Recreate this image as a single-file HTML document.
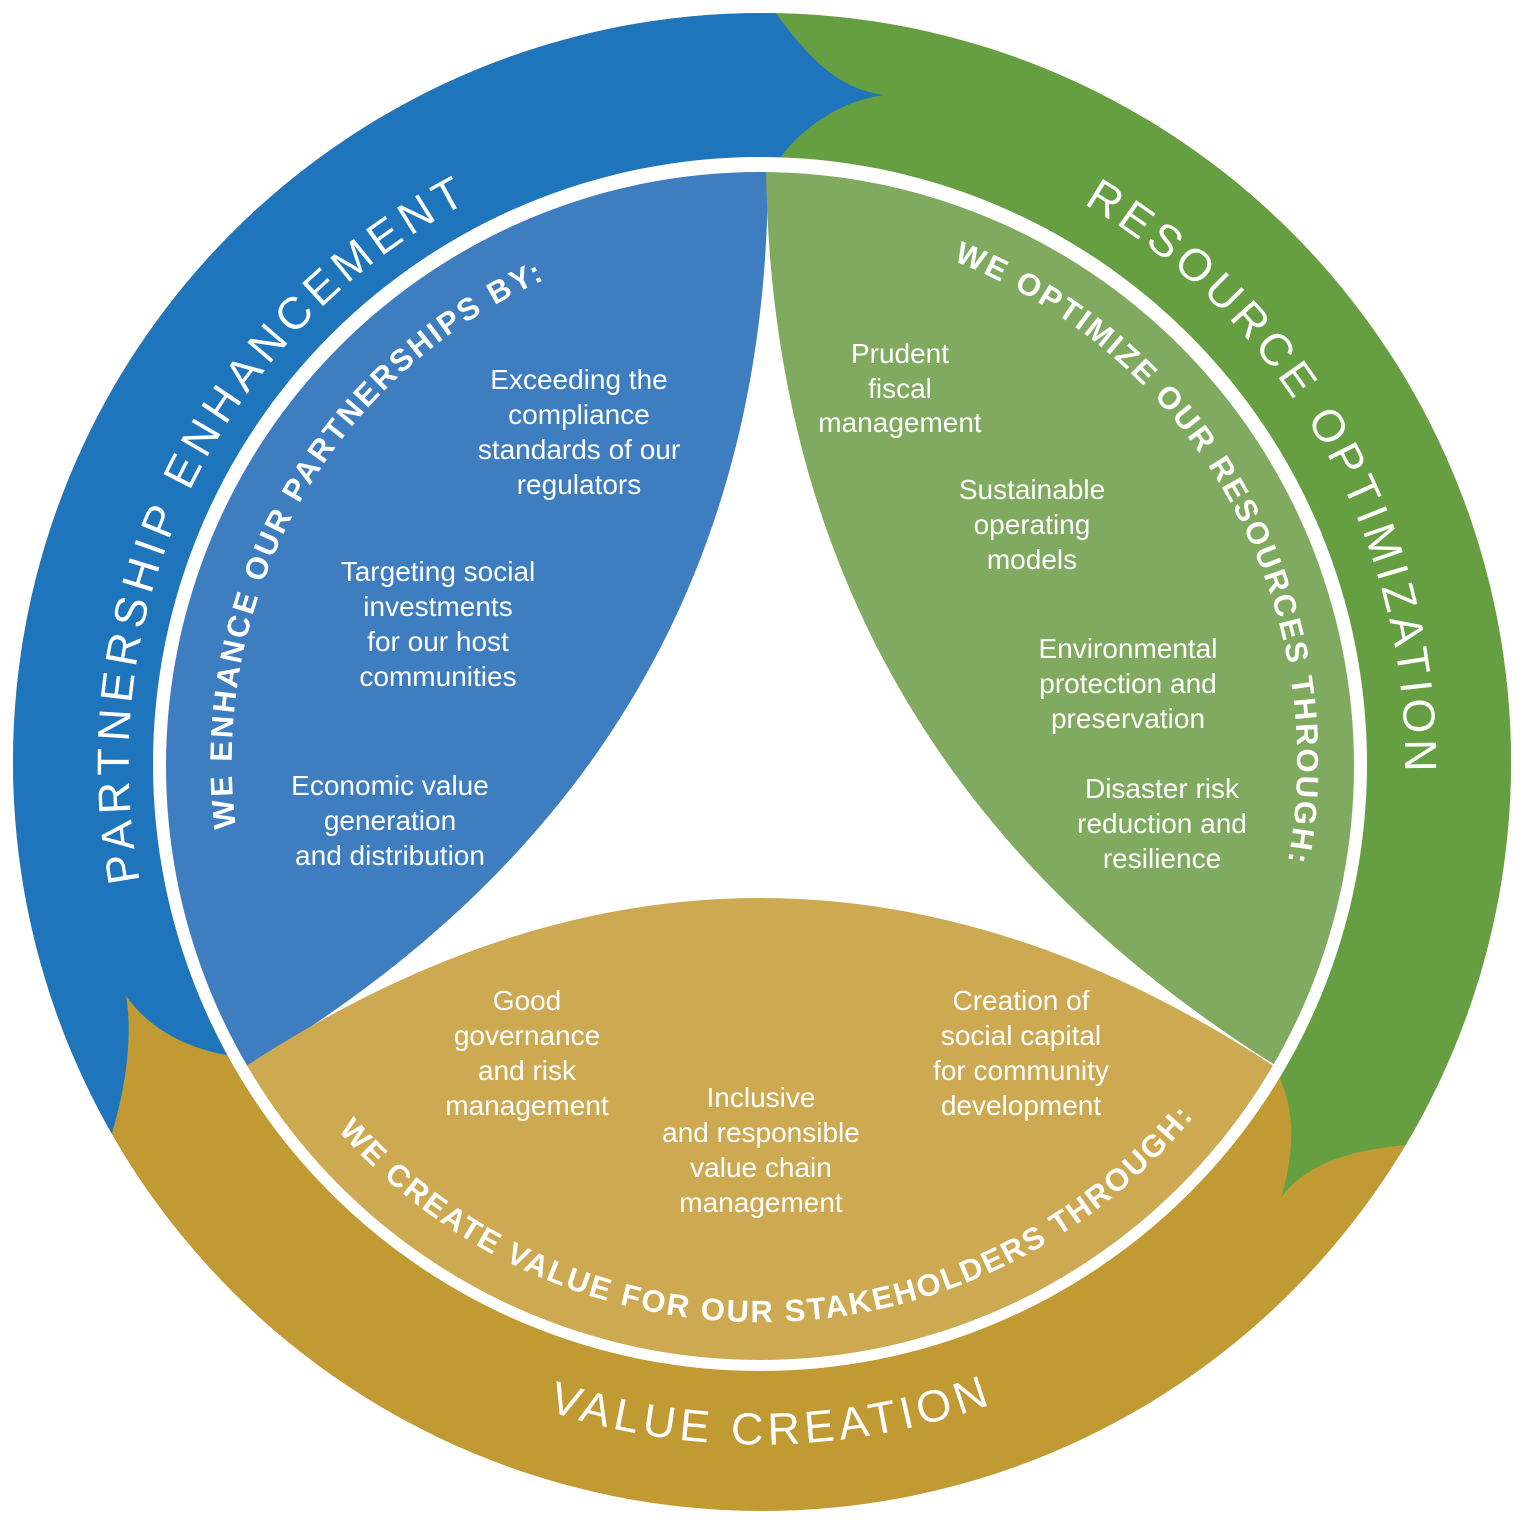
<!DOCTYPE html>
<html><head><meta charset="utf-8"><style>
html,body{margin:0;padding:0;background:#fff;}
svg{display:block;}
.b{font-family:"Liberation Sans",sans-serif;fill:#fff;font-size:28px;text-anchor:middle;}
.o{font-family:"Liberation Sans",sans-serif;fill:#fff;font-size:45px;}
.i{font-family:"Liberation Sans",sans-serif;fill:#fff;font-size:31px;font-weight:bold;}
</style></head><body>
<svg width="1525" height="1525" viewBox="0 0 1525 1525" xmlns="http://www.w3.org/2000/svg">
<defs>
<clipPath id="disk"><circle cx="760" cy="766" r="594"/></clipPath>
<clipPath id="outer"><circle cx="762" cy="762" r="749"/></clipPath>
<path id="pPE" d="M434.5,1303.6 A632 632 0 0 1 986.5,172"/>
<path id="pRO" d="M494.6,174.1 A645 645 0 0 1 1123.5,1294.8"/>
<path id="pVC" d="M80.8,833.4 A683 683 0 0 0 1441.3,809.7"/>
<path id="pWE" d="M460.9,1197.1 A528 528 0 0 1 979,281.5"/>
<path id="pWO" d="M541.6,271.4 A537 537 0 0 1 1060.3,1207.2"/>
<path id="pWC" d="M203.1,820.5 A560 560 0 0 0 1318.7,801.1"/>
</defs>
<circle cx="762" cy="762" r="749" fill="#c19a33"/>
<g clip-path="url(#outer)">
<path d="M762,762 L775,0 L1525,0 L1525,1140 L1408,1145 C1340,1150 1300,1170 1281,1198 C1295,1150 1295,1110 1279,1077 Z" fill="#659f41"/>
<path d="M762,762 L700,1100 L0,1140 L0,0 L775,0 L775,12 C810,60 840,90 885,95 C840,100 800,130 780,158 Z" fill="#1f75bb"/>
<path d="M400,1300 L0,1180 L0,1140 L112,1133 C128,1080 132,1030 126,996 C150,1030 190,1050 233,1056 L400,1100 Z" fill="#c19a33"/>
</g>
<circle cx="760" cy="764" r="607" fill="#fff"/>
<g clip-path="url(#disk)">
<rect x="0" y="0" width="1525" height="1525" fill="#fff"/>
<path d="M768,165 C770,600 560,880 250,1065 L0,1200 L0,0 L768,0 Z" fill="#3e7dbf"/>
<path d="M766,165 C770,600 980,880 1275,1065 L1525,1200 L1525,0 L766,0 Z" fill="#80aa5f"/>
<path d="M0,1200 L240,1070 Q760,726 1280,1070 L1525,1200 L1525,1525 L0,1525 Z" fill="#cdaa52"/>
</g>
<text class="o" letter-spacing="6"><textPath href="#pPE" startOffset="50%" text-anchor="middle">PARTNERSHIP ENHANCEMENT</textPath></text>
<text class="o" letter-spacing="5"><textPath href="#pRO" startOffset="50%" text-anchor="middle">RESOURCE OPTIMIZATION</textPath></text>
<text class="o" letter-spacing="5" font-size="46"><textPath href="#pVC" startOffset="50%" text-anchor="middle">VALUE CREATION</textPath></text>
<text class="i" letter-spacing="2.5"><textPath href="#pWE" startOffset="50%" text-anchor="middle">WE ENHANCE OUR PARTNERSHIPS BY:</textPath></text>
<text class="i" letter-spacing="2.5"><textPath href="#pWO" startOffset="50%" text-anchor="middle">WE OPTIMIZE OUR RESOURCES THROUGH:</textPath></text>
<text class="i" letter-spacing="2"><textPath href="#pWC" startOffset="50%" text-anchor="middle">WE CREATE VALUE FOR OUR STAKEHOLDERS THROUGH:</textPath></text>
<g class="b">
<text x="579" y="389">Exceeding the</text><text x="579" y="424">compliance</text><text x="579" y="459">standards of our</text><text x="579" y="494">regulators</text>
<text x="438" y="581">Targeting social</text><text x="438" y="616">investments</text><text x="438" y="651">for our host</text><text x="438" y="686">communities</text>
<text x="390" y="795">Economic value</text><text x="390" y="830">generation</text><text x="390" y="865">and distribution</text>
<text x="900" y="363">Prudent</text><text x="900" y="398">fiscal</text><text x="900" y="432">management</text>
<text x="1032" y="499">Sustainable</text><text x="1032" y="534">operating</text><text x="1032" y="569">models</text>
<text x="1128" y="658">Environmental</text><text x="1128" y="693">protection and</text><text x="1128" y="728">preservation</text>
<text x="1162" y="798">Disaster risk</text><text x="1162" y="833">reduction and</text><text x="1162" y="868">resilience</text>
<text x="527" y="1010">Good</text><text x="527" y="1045">governance</text><text x="527" y="1080">and risk</text><text x="527" y="1115">management</text>
<text x="761" y="1107">Inclusive</text><text x="761" y="1142">and responsible</text><text x="761" y="1177">value chain</text><text x="761" y="1212">management</text>
<text x="1021" y="1010">Creation of</text><text x="1021" y="1045">social capital</text><text x="1021" y="1080">for community</text><text x="1021" y="1115">development</text>
</g>
</svg>
</body></html>
